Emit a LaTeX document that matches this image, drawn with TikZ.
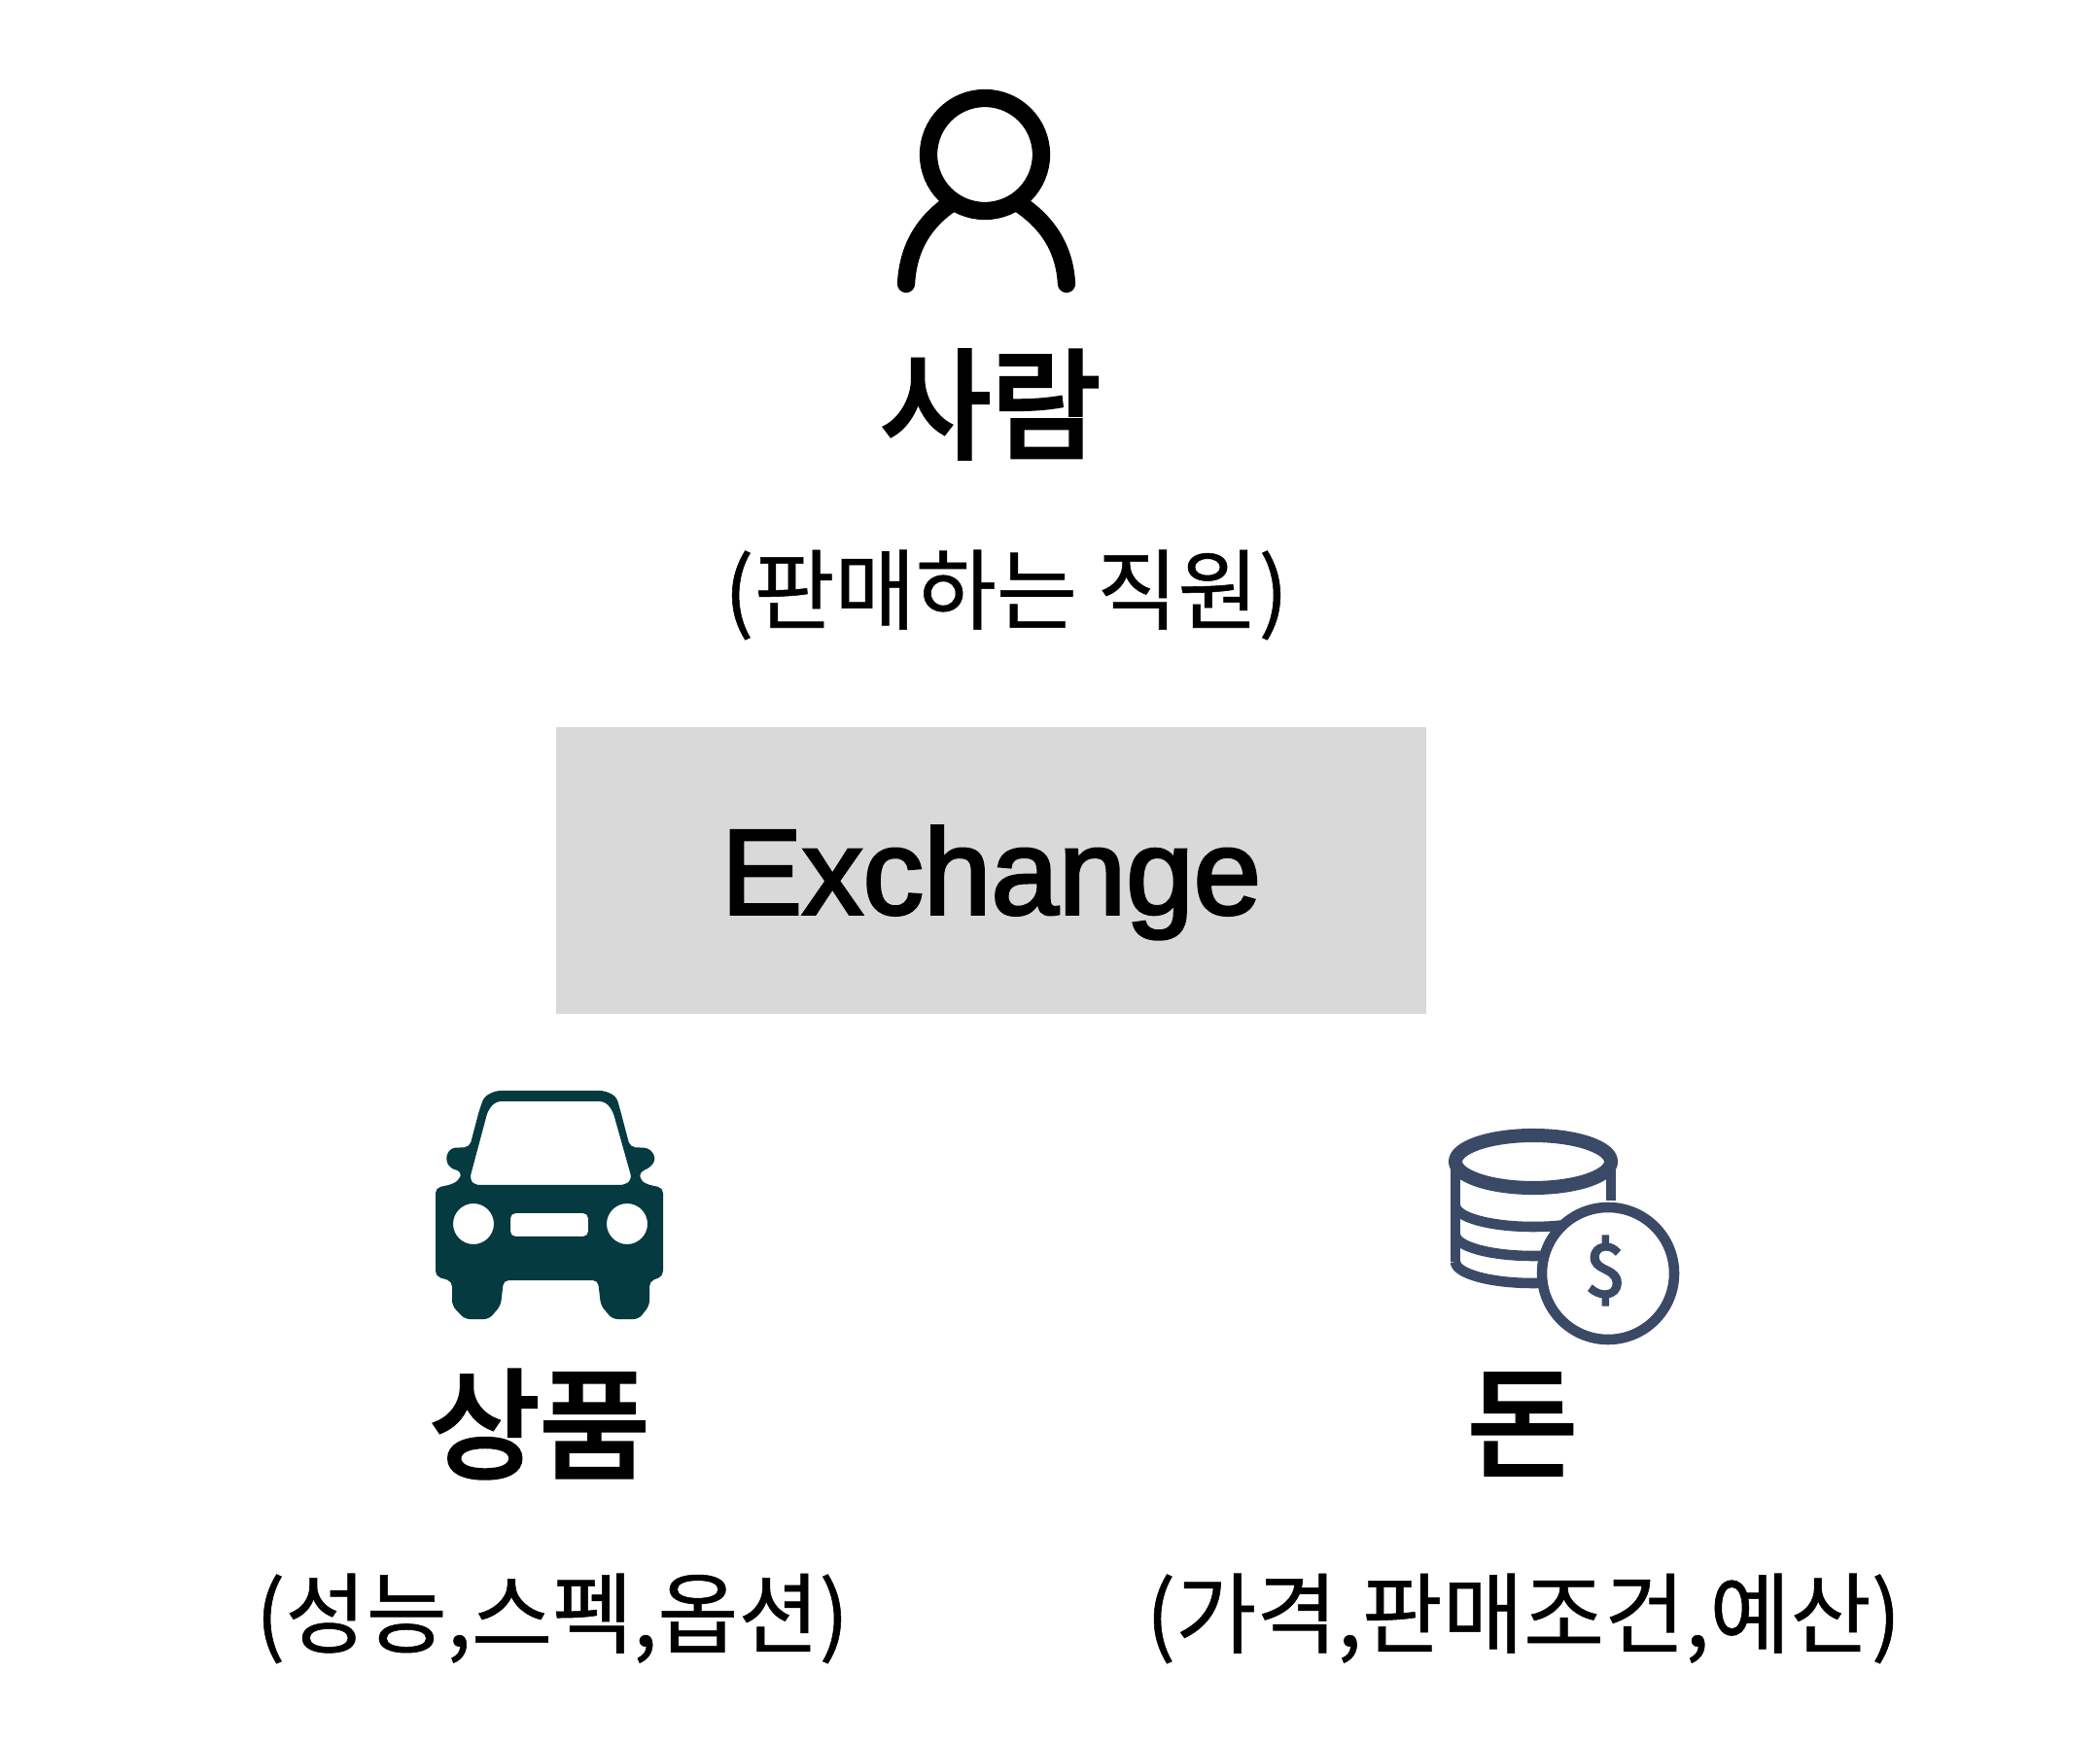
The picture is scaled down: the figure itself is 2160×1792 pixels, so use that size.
\documentclass[tikz,border=0pt]{standalone}
\usepackage{xcolor}
\usepackage{fontspec}
\newfontfamily\kor{Noto Sans CJK KR}
\newfontfamily\korbold[FakeBold=3.5]{Noto Sans CJK KR}
\newfontfamily\kornote[FakeBold=0.6]{Noto Sans CJK KR}
\newfontfamily\latinbold[FakeBold=2.5]{Liberation Sans}
\begin{document}
\begin{tikzpicture}[x=0.01cm,y=-0.01cm,
  mytitle/.style={font=\korbold\fontsize{35}{35}\selectfont,text=black},
  mynote/.style={font=\kornote\fontsize{25.7}{25.7}\selectfont,text=black}]
\definecolor{boxgray}{HTML}{D9D9D9}
\definecolor{cardark}{HTML}{053A41}
\definecolor{coinblue}{HTML}{3A4A66}
\useasboundingbox (0,0) rectangle (2160,1792);
\node [fill=boxgray,minimum width=895*0.01cm,minimum height=295*0.01cm] (exchange) at (1019.5,896) {};
\node [font=\latinbold\fontsize{35.5}{35.5}\selectfont] (exchangetext) at (1019.5,908) {Exchange};
  \foreach \nm/\xpos/\txt in {person/1019/사람,goods/555/상품,money/1566/돈}
  {  \node [mytitle] (\nm title) at (\xpos,\ifnum\xpos=1019 416\else 1465\fi) {\txt};}
\node [mynote] (personnote) at (1035,612) {(판매하는 직원)};
\node [mynote] (goodsnote) at (568,1665) {(성능,스펙,옵션)};
\node [mynote] (moneynote) at (1567,1665) {(가격,판매조건,예산)};
% person
\draw [line width=5.2pt] (1013,159) circle [radius=58];
\draw [line width=5.2pt,line cap=round] (932,292) .. controls (934,255) and (950,228) .. (980,208);
\draw [line width=5.2pt,line cap=round] (1097,292) .. controls (1095,255) and (1077,228) .. (1046,208);
% car
\fill [cardark,even odd rule,rounded corners=1.5pt]
  (510,1122) -- (622,1122) -- (634,1128) -- (638,1142) -- (648,1180) -- (668,1181) -- (675,1192) -- (668,1202)
  -- (658,1205) -- (658,1213) -- (664,1218) -- (682,1222) -- (682,1313) -- (668,1318) -- (668,1343) -- (657,1357)
  -- (630,1357) -- (618,1343) -- (615,1317) -- (518,1317) -- (515,1343) -- (503,1357) -- (478,1357)
  -- (465,1343) -- (465,1318) -- (448,1313) -- (448,1222) -- (466,1218) -- (473,1213) -- (475,1205) -- (463,1202)
  -- (458,1192) -- (463,1181) -- (483,1180) -- (493,1142) -- (498,1128) -- cycle
  (510,1133) -- (622,1133) -- (630,1142) -- (650,1213) -- (643,1219) -- (488,1219) -- (483,1213) -- (502,1142) -- cycle
  (525,1248) rectangle (605,1272)
  (487,1259) circle [radius=21]
  (645,1259) circle [radius=21];
% coins
\draw [coinblue,line width=4pt] (1577,1195) ellipse [x radius=80,y radius=27];
\draw [coinblue,line width=3pt] (1497,1195) -- (1497,1298);
\draw [coinblue,line width=3pt] (1657,1195) -- (1657,1235);
  \foreach \ypos in {1240,1270,1298}
  {  \draw [coinblue,line width=3pt] (1497,\ypos) arc [start angle=180,end angle=0,x radius=80,y radius=22];}
\fill [white] (1654,1310) circle [radius=72];
\draw [coinblue,line width=3pt] (1654,1310) circle [radius=68];
\node [coinblue,font=\korbold\fontsize{21}{21}\selectfont] (dollar) at (1651,1307) {\$};
\end{tikzpicture}
\end{document}
